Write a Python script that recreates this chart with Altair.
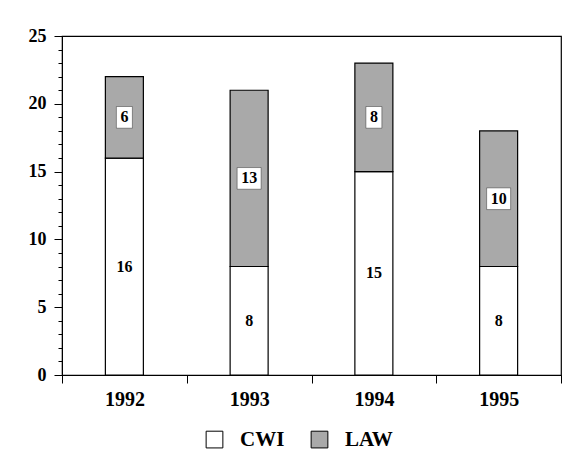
import altair as alt
import pandas as pd

years = ["1992", "1993", "1994", "1995"]
cwi = [16, 8, 15, 8]
law = [6, 13, 8, 10]

rows = []
for y, c, l in zip(years, cwi, law):
    rows.append({"year": y, "group": "CWI", "start": 0, "end": c, "val": c})
    rows.append({"year": y, "group": "LAW", "start": c, "end": c + l, "val": l})
df = pd.DataFrame(rows)
df["mid"] = (df["start"] + df["end"]) / 2
df["lab"] = df["val"].astype(str)
df["boxw"] = 8 + 8 * df["lab"].str.len()
df["blo"] = df["mid"] - 0.8
df["bhi"] = df["mid"] + 0.8

FONT = "Liberation Serif"

xaxis = alt.Axis(labelAngle=0, labelFont=FONT, labelFontSize=20, labelFontWeight="bold",
                 labelColor="black", tickBand="extent", tickSize=8, tickColor="black",
                 domainColor="black", labelPadding=6)
xscale = alt.Scale(paddingInner=0, paddingOuter=0)
yaxis = alt.Axis(values=list(range(26)), labelExpr="datum.value % 5 === 0 ? datum.label : ''",
                 labelOverlap=False,
                 tickSize={"condition": {"test": "datum.value % 5 === 0", "value": 8}, "value": 4},
                 tickColor="black", domainColor="black", grid=False,
                 labelFont=FONT, labelFontSize=18, labelFontWeight="bold", labelColor="black",
                 labelPadding=8)
yscale = alt.Scale(domain=[0, 25], nice=False)


def X():
    return alt.X("year:N", title=None, sort=years, scale=xscale, axis=xaxis)


def Y(f):
    return alt.Y(f, scale=yscale, title=None, axis=yaxis)


bars = alt.Chart(df).mark_bar(size=38, stroke="black", strokeWidth=1.2).encode(
    x=X(),
    y=Y("start:Q"),
    y2="end:Q",
    color=alt.Color("group:N", title=None,
                    scale=alt.Scale(domain=["CWI", "LAW"], range=["white", "#a9a9a9"]),
                    legend=alt.Legend(orient="none", legendX=142, legendY=393, direction="horizontal",
                                      symbolType="square", symbolSize=280, symbolStrokeColor="black",
                                      symbolStrokeWidth=1, labelFont=FONT, labelFontSize=21,
                                      labelFontWeight="bold", labelColor="black", columnPadding=24,
                                      labelOffset=15)),
)

boxes = alt.Chart(df[df["group"] == "LAW"]).mark_bar(color="white", stroke="#333", strokeWidth=0.5).encode(
    x=X(),
    y=Y("blo:Q"),
    y2="bhi:Q",
    size=alt.Size("boxw:Q", scale=None, legend=None),
)

texts = alt.Chart(df).mark_text(font=FONT, fontSize=16, fontWeight="bold", color="black").encode(
    x=X(),
    y=Y("mid:Q"),
    text="lab:N",
)

chart = alt.layer(bars, boxes, texts).properties(
    width=499, height=339,
    autosize=alt.AutoSizeParams(type="none"),
    padding={"left": 54, "top": 28, "right": 6, "bottom": 86},
    background="white",
).configure_view(stroke="black", strokeWidth=1.2)

chart.save("out.html", embed_options={"renderer": "svg", "actions": False})
